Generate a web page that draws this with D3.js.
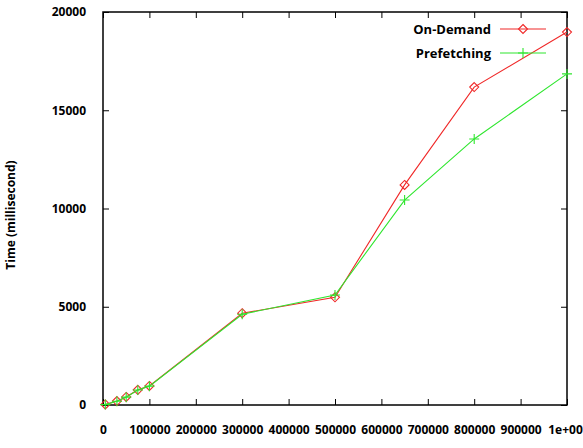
<!DOCTYPE html>
<html><head><meta charset="utf-8">
<script src="https://cdn.jsdelivr.net/npm/d3@7"></script>
<style>body{margin:0;background:#fff}text{font-family:"Open Sans",sans-serif;font-weight:bold}</style>
</head><body><svg id="c" width="583" height="448"></svg>
<script>
const xValues = [5000, 30000, 50000, 75000, 100000, 300000, 500000, 650000, 800000, 1000000];
const onDemand = [30, 200, 410, 770, 970, 4670, 5480, 11200, 16180, 18980];
const prefetching = [20, 190, 400, 760, 960, 4620, 5600, 10430, 13540, 16850];
const xTicks = [0,100000,200000,300000,400000,500000,600000,700000,800000,900000,1000000];
const xTickLabels = ["0","100000","200000","300000","400000","500000","600000","700000","800000","900000","1e+00"];
const yTicks = [0,5000,10000,15000,20000];
const series = [
  {name:"On-Demand", values:onDemand, color:"#f02828", marker:"diamond"},
  {name:"Prefetching", values:prefetching, color:"#2ee62e", marker:"plus"}
];
const svg = d3.select("#c");
const L=103, R=567, T=12, B=405;
const x = d3.scaleLinear().domain([0,1000000]).range([L,R]);
const y = d3.scaleLinear().domain([0,20000]).range([B,T]);
svg.append("rect").attr("x",L).attr("y",T).attr("width",R-L).attr("height",B-T)
  .attr("fill","none").attr("stroke","#000").attr("stroke-width",1.5);
const xb = svg.append("g").attr("transform",`translate(0,${B})`)
  .call(d3.axisBottom(x).tickValues(xTicks).tickSize(-6).tickPadding(20).tickFormat((d,i)=>xTickLabels[i]));
const xt = svg.append("g").attr("transform",`translate(0,${T})`)
  .call(d3.axisTop(x).tickValues(xTicks).tickSize(-6).tickFormat(""));
const yl = svg.append("g").attr("transform",`translate(${L},0)`)
  .call(d3.axisLeft(y).tickValues(yTicks).tickSize(-6).tickPadding(17).tickFormat(d3.format("d")));
const yr = svg.append("g").attr("transform",`translate(${R},0)`)
  .call(d3.axisRight(y).tickValues(yTicks).tickSize(-6).tickFormat(""));
[xb,xt,yl,yr].forEach(g=>{g.select(".domain").remove();g.selectAll("line").attr("stroke","#000");
  g.selectAll("text").attr("font-size",12).attr("fill","#000").attr("font-family","'Open Sans',sans-serif").attr("font-weight","bold");});
xb.selectAll("text").attr("dy","0.71em").filter((d,i)=>i===xTicks.length-1).attr("dx",-2);
svg.append("text").attr("transform",`translate(15,215) rotate(-90)`).attr("text-anchor","middle")
  .attr("font-size",12).text("Time (millisecond)");
const line = d3.line().x((d,i)=>x(xValues[i])).y(d=>y(d));
function marker(g, cx, cy, s){
  if(s.marker==="diamond"){
    g.append("path").attr("d",`M${cx},${cy-4.5}L${cx+4.5},${cy}L${cx},${cy+4.5}L${cx-4.5},${cy}Z`)
      .attr("fill","none").attr("stroke",s.color).attr("stroke-width",1.1);
  } else {
    g.append("path").attr("d",`M${cx-5},${cy}H${cx+5}M${cx},${cy-5}V${cy+5}`)
      .attr("stroke",s.color).attr("stroke-width",1.1);
  }
}
series.forEach((s,k)=>{
  const g = svg.append("g");
  g.append("path").datum(s.values).attr("d",line).attr("fill","none").attr("stroke",s.color).attr("stroke-width",1.1);
  s.values.forEach((v,i)=>marker(g,x(xValues[i]),y(v),s));
  const ly = 29 + k*24;
  svg.append("text").attr("x",491).attr("y",ly).attr("dy","0.36em").attr("text-anchor","end").attr("font-size",13).text(s.name);
  svg.append("line").attr("x1",500).attr("x2",546).attr("y1",ly).attr("y2",ly).attr("stroke",s.color).attr("stroke-width",1.1);
  marker(svg,523,ly,s);
});
</script></body></html>
